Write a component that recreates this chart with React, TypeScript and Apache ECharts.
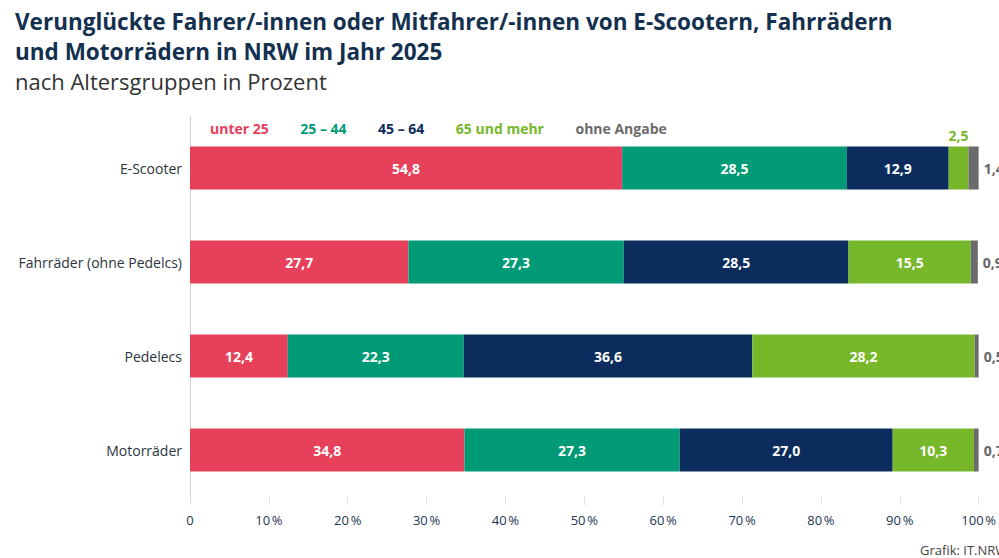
import React, { useEffect, useRef } from "react";
import * as echarts from "echarts";

const categories = ["E-Scooter", "Fahrräder (ohne Pedelcs)", "Pedelecs", "Motorräder"];
const groupNames = ["unter 25", "25 – 44", "45 – 64", "65 und mehr", "ohne Angabe"];
const unter25 = [54.8, 27.7, 12.4, 34.8];
const age25to44 = [28.5, 27.3, 22.3, 27.3];
const age45to64 = [12.9, 28.5, 36.6, 27.0];
const age65plus = [2.5, 15.5, 28.2, 10.3];
const ohneAngabe = [1.4, 0.9, 0.5, 0.7];
const xTicks = [0, 10, 20, 30, 40, 50, 60, 70, 80, 90, 100];
const titleLines = [
  "Verunglückte Fahrer/-innen oder Mitfahrer/-innen von E-Scootern, Fahrrädern",
  "und Motorrädern in NRW im Jahr 2025",
];

const colors = ["#e6405a", "#009a76", "#0b2c5c", "#76b82a", "#6b6b6b"];
const FONT = "'Open Sans', 'Noto Sans', sans-serif";

const fmt = (v: number) => v.toFixed(1).replace(".", ",");

export default function App() {
  const ref = useRef<HTMLDivElement>(null);
  useEffect(() => {
    if (!ref.current) return;
    const chart = echarts.init(ref.current, undefined, { renderer: "svg" });
    const seriesData = [unter25, age25to44, age45to64, age65plus, ohneAngabe];
    const series = seriesData.map((arr, i) => ({
      name: groupNames[i],
      type: "bar",
      stack: "total",
      barWidth: 43,
      itemStyle: { color: colors[i] },
      data: arr.map((v) => {
        let label: any = {
          show: true,
          position: "inside",
          color: "#ffffff",
          fontFamily: FONT,
          fontWeight: "bold",
          fontSize: 14,
          formatter: () => fmt(v),
        };
        if (i === 4) {
          label = { ...label, position: "right", distance: 5, color: "#666666" };
        } else if (v < 5) {
          label = { ...label, position: "top", distance: 4, color: colors[i] };
        }
        return { value: v, label };
      }),
    }));
    const titleStyle = {
      fontFamily: FONT,
      fontSize: 22.5,
      fontWeight: "bold",
      color: "#13304f",
      lineHeight: 26,
    };
    chart.setOption({
      animation: false,
      backgroundColor: "#ffffff",
      title: [
        { text: titleLines[0], left: 15, top: 8, padding: 0, textStyle: titleStyle },
        { text: titleLines[1], left: 15, top: 38, padding: 0, textStyle: titleStyle },
        {
          text: "nach Altersgruppen in Prozent",
          left: 15,
          top: 68,
          padding: 0,
          textStyle: {
            fontFamily: FONT,
            fontSize: 22,
            fontWeight: "normal",
            color: "#333333",
            lineHeight: 25,
          },
        },
      ],
      legend: {
        left: 200,
        top: 116,
        icon: "none",
        itemWidth: 0,
        itemHeight: 10,
        itemGap: 26.5,
        selectedMode: false,
        data: groupNames.map((n, i) => ({
          name: n,
          textStyle: {
            color: colors[i],
            fontFamily: FONT,
            fontWeight: "bold",
            fontSize: 14,
          },
        })),
      },
      grid: { left: 190, right: 17, top: 121, height: 376 },
      xAxis: {
        type: "value",
        min: xTicks[0],
        max: xTicks[xTicks.length - 1],
        interval: 10,
        axisLine: { show: false },
        axisTick: { show: true, length: 8, lineStyle: { color: "#e0e0e0" } },
        splitLine: { show: false },
        axisLabel: {
          margin: 16,
          fontFamily: FONT,
          fontSize: 13,
          color: "#1e3553",
          formatter: (v: number) => (v === 0 ? "0" : v + "\u202F%"),
        },
      },
      yAxis: {
        type: "category",
        inverse: true,
        data: categories,
        axisLine: { show: false },
        axisTick: { show: false },
        axisLabel: {
          margin: 8,
          fontFamily: FONT,
          fontSize: 14,
          color: "#2b3440",
        },
      },
      graphic: [
        {
          type: "line",
          shape: { x1: 190.5, y1: 116, x2: 190.5, y2: 505 },
          style: { stroke: "#d0d0d0", lineWidth: 1 },
          z: 0,
        },
        {
          type: "text",
          left: 920,
          top: 543,
          style: {
            text: "Grafik: IT.NRW",
            fontFamily: FONT,
            fontSize: 13,
            fill: "#444444",
          },
        },
      ],
      series,
    });
    return () => chart.dispose();
  }, []);
  return (
    <div
      ref={ref}
      style={{ position: "fixed", left: 0, top: 0, width: 999, height: 558, background: "#fff" }}
    />
  );
}
